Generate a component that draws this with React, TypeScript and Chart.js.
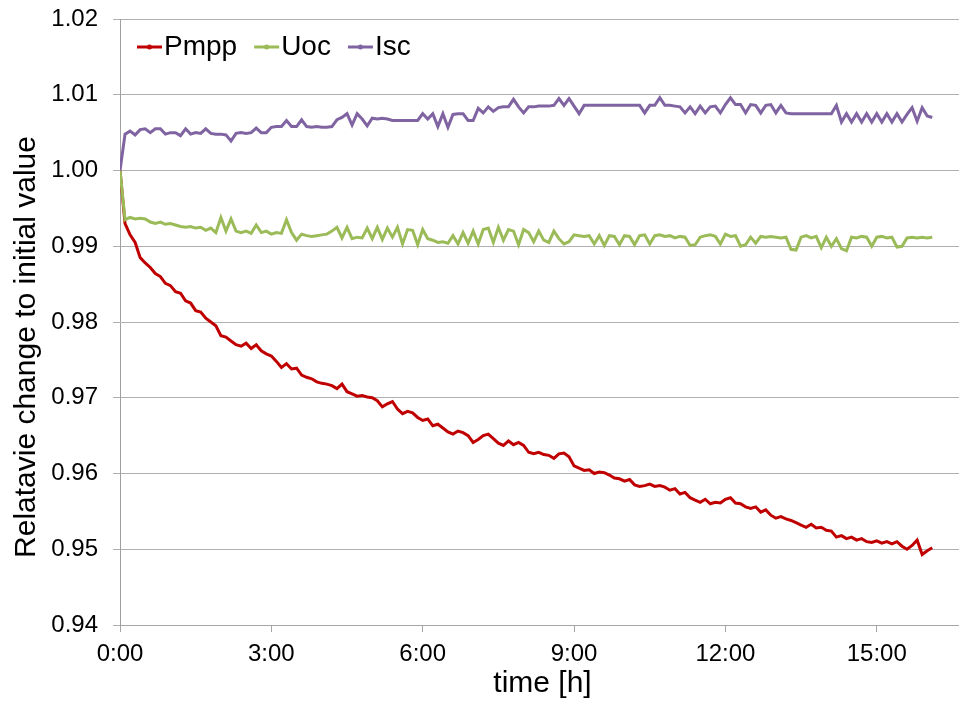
import React, { useEffect, useRef } from "react";
import { Chart, registerables } from "chart.js";

Chart.register(...registerables);

const FONT = "'Liberation Sans', Arial, Helvetica, sans-serif";

// time in hours
const hours = [
  0, 0.1, 0.2, 0.3, 0.4, 0.5, 0.6, 0.7, 0.8, 0.9,
  1, 1.1, 1.2, 1.3, 1.4, 1.5, 1.6, 1.7, 1.8, 1.9,
  2, 2.1, 2.2, 2.3, 2.4, 2.5, 2.6, 2.7, 2.8, 2.9,
  3, 3.1, 3.2, 3.3, 3.4, 3.5, 3.6, 3.7, 3.8, 3.9,
  4, 4.1, 4.2, 4.3, 4.4, 4.5, 4.6, 4.7, 4.8, 4.9,
  5, 5.1, 5.2, 5.3, 5.4, 5.5, 5.6, 5.7, 5.8, 5.9,
  6, 6.1, 6.2, 6.3, 6.4, 6.5, 6.6, 6.7, 6.8, 6.9,
  7, 7.1, 7.2, 7.3, 7.4, 7.5, 7.6, 7.7, 7.8, 7.9,
  8, 8.1, 8.2, 8.3, 8.4, 8.5, 8.6, 8.7, 8.8, 8.9,
  9, 9.1, 9.2, 9.3, 9.4, 9.5, 9.6, 9.7, 9.8, 9.9,
  10, 10.1, 10.2, 10.3, 10.4, 10.5, 10.6, 10.7, 10.8, 10.9,
  11, 11.1, 11.2, 11.3, 11.4, 11.5, 11.6, 11.7, 11.8, 11.9,
  12, 12.1, 12.2, 12.3, 12.4, 12.5, 12.6, 12.7, 12.8, 12.9,
  13, 13.1, 13.2, 13.3, 13.4, 13.5, 13.6, 13.7, 13.8, 13.9,
  14, 14.1, 14.2, 14.3, 14.4, 14.5, 14.6, 14.7, 14.8, 14.9,
  15, 15.1, 15.2, 15.3, 15.4, 15.5, 15.6, 15.7, 15.8, 15.9,
  16, 16.1,
];

const pmpp = [
  1.0, 0.993, 0.9915, 0.9905, 0.9885, 0.9878, 0.9872, 0.9864, 0.986, 0.9851,
  0.9848, 0.984, 0.9838, 0.9828, 0.9825, 0.9815, 0.9813, 0.9805, 0.98, 0.9795,
  0.9782, 0.978, 0.9775, 0.977, 0.9768, 0.9772, 0.9765, 0.977, 0.9762, 0.9758,
  0.9755, 0.9748, 0.974, 0.9745, 0.9738, 0.9739, 0.973, 0.9727, 0.9725, 0.9721,
  0.9719, 0.9718, 0.9716, 0.9712, 0.9718, 0.9708, 0.9705, 0.9702, 0.9703, 0.9701,
  0.97, 0.9696, 0.9688, 0.9692, 0.9695, 0.9685, 0.9679, 0.9682, 0.968, 0.9674,
  0.967, 0.9672, 0.9663, 0.9665, 0.966, 0.9655, 0.9652, 0.9656, 0.9654, 0.965,
  0.9641, 0.9645, 0.965, 0.9652, 0.9646, 0.964, 0.9637, 0.9643, 0.9638, 0.9641,
  0.9637, 0.9628, 0.9626, 0.9628, 0.9625, 0.9624, 0.962, 0.9626, 0.9627, 0.9622,
  0.961, 0.9607, 0.9604, 0.9605, 0.96, 0.9602, 0.9601, 0.9598, 0.9594, 0.9593,
  0.959, 0.9592, 0.9585, 0.9583, 0.9584, 0.9586, 0.9583, 0.9584, 0.9582, 0.9578,
  0.958, 0.9573, 0.9575, 0.9568, 0.9565, 0.9562, 0.9566, 0.956, 0.9562, 0.9561,
  0.9566, 0.9568, 0.9561, 0.956, 0.9556, 0.9554, 0.9556, 0.9549, 0.9552, 0.9545,
  0.9541, 0.9543, 0.954, 0.9538, 0.9535, 0.9532, 0.9529, 0.9533, 0.9528, 0.9529,
  0.9525, 0.9524, 0.9516, 0.9518, 0.9514, 0.9516, 0.9512, 0.9514, 0.951, 0.9509,
  0.9511, 0.9508, 0.951, 0.9507, 0.951, 0.9504, 0.95, 0.9505, 0.9512, 0.9493,
  0.9498, 0.9502,
];

const uoc = [
  1.0, 0.9935, 0.9938, 0.9936, 0.9937, 0.9936, 0.9932, 0.993, 0.9932, 0.9929,
  0.993, 0.9928, 0.9926, 0.9925, 0.9926, 0.9924, 0.9925, 0.9921, 0.9924, 0.9918,
  0.9938, 0.992, 0.9936, 0.992, 0.9918, 0.992, 0.9917, 0.9928, 0.9918, 0.992,
  0.9916, 0.9918, 0.9917, 0.9935, 0.9918, 0.9908, 0.9916, 0.9914, 0.9913, 0.9914,
  0.9915, 0.9916, 0.992, 0.9925, 0.9911, 0.9925, 0.991, 0.9912, 0.9911, 0.9924,
  0.991, 0.9925, 0.9909, 0.9924, 0.9912, 0.9925, 0.9903, 0.9922, 0.9921, 0.9902,
  0.9922, 0.991, 0.9908, 0.9905, 0.9906, 0.9904, 0.9914, 0.9903, 0.9918, 0.9904,
  0.992, 0.9903, 0.9922, 0.9924, 0.9905, 0.9925, 0.9908, 0.9922, 0.992, 0.9902,
  0.9922, 0.9918, 0.9906, 0.992, 0.9908, 0.9905, 0.992, 0.991, 0.9903, 0.9906,
  0.9915, 0.9914, 0.9913, 0.9914, 0.9903, 0.9914, 0.9901, 0.9914, 0.9913, 0.9902,
  0.9914, 0.9913, 0.9902, 0.9914, 0.9915, 0.9903, 0.9914, 0.9915, 0.9913, 0.9914,
  0.9911, 0.9913, 0.9912, 0.9901, 0.9902, 0.9912, 0.9914, 0.9915, 0.9913, 0.9903,
  0.9916, 0.9913, 0.9914, 0.99, 0.9902, 0.9912, 0.9904, 0.9913, 0.9912, 0.9913,
  0.9912, 0.9911, 0.9912, 0.9896, 0.9895, 0.9912, 0.9914, 0.9911, 0.9913, 0.9898,
  0.9912, 0.99, 0.991, 0.9897, 0.9894, 0.9912, 0.9911, 0.9913, 0.9912, 0.99,
  0.9912, 0.9913, 0.9911, 0.9912, 0.9899, 0.99, 0.9911, 0.9912, 0.9911, 0.9912,
  0.9911, 0.9912,
];

const isc = [
  1.0, 1.0048, 1.0052, 1.0047, 1.0054, 1.0055, 1.005, 1.0055, 1.0055, 1.0048,
  1.005, 1.005, 1.0046, 1.0055, 1.0048, 1.005, 1.0049, 1.0055, 1.0049, 1.0048,
  1.0048, 1.0047, 1.0039, 1.0049, 1.005, 1.0049, 1.005, 1.0056, 1.005, 1.005,
  1.0057, 1.0058, 1.0058, 1.0066, 1.0058, 1.0058, 1.0067, 1.0058, 1.0057, 1.0058,
  1.0057, 1.0057, 1.0058, 1.0067, 1.007, 1.0075, 1.006, 1.0075, 1.0068, 1.0059,
  1.0069, 1.0068, 1.0069, 1.0068, 1.0066, 1.0066, 1.0066, 1.0066, 1.0066, 1.0066,
  1.0075, 1.0068, 1.0075, 1.0058, 1.0075, 1.0057, 1.0074, 1.0075, 1.0075, 1.0066,
  1.0066, 1.0082, 1.0076, 1.0084, 1.0078, 1.0083, 1.0084, 1.0084, 1.0094, 1.0084,
  1.0076, 1.0084, 1.0084, 1.0085, 1.0085, 1.0085, 1.0086, 1.0095, 1.0086, 1.0095,
  1.0085, 1.0075, 1.0086, 1.0086, 1.0086, 1.0086, 1.0086, 1.0086, 1.0086, 1.0086,
  1.0086, 1.0086, 1.0086, 1.0086, 1.0076, 1.0086, 1.0086, 1.0096, 1.0086, 1.0086,
  1.0085, 1.0084, 1.0076, 1.0084, 1.0075, 1.0085, 1.0076, 1.0084, 1.0085, 1.0076,
  1.0087, 1.0096, 1.0087, 1.0087, 1.0076, 1.0087, 1.0086, 1.0076, 1.0086, 1.0087,
  1.0076, 1.0086, 1.0076, 1.0075, 1.0075, 1.0075, 1.0075, 1.0075, 1.0075, 1.0075,
  1.0075, 1.0075, 1.0086, 1.0064, 1.0075, 1.0064, 1.0075, 1.0064, 1.0075, 1.0064,
  1.0075, 1.0064, 1.0075, 1.0064, 1.0075, 1.0064, 1.0074, 1.0083, 1.0065, 1.0083,
  1.0072, 1.007,
];

const seriesNames = ["Pmpp", "Uoc", "Isc"];
const seriesValues = [pmpp, uoc, isc];
const seriesColors = ["#C00000", "#9BBB59", "#8064A2"];

const xTickValues = [0, 3, 6, 9, 12, 15];
const xTickLabels = ["0:00", "3:00", "6:00", "9:00", "12:00", "15:00"];
const yTickValues = [0.94, 0.95, 0.96, 0.97, 0.98, 0.99, 1.0, 1.01, 1.02];

const xTitle = "time [h]";
const yTitle = "Relatavie change to initial value";

const decorPlugin = {
  id: "decor",
  afterDraw(chart: any) {
    const ctx = chart.ctx as CanvasRenderingContext2D;
    const area = chart.chartArea;
    ctx.save();
    ctx.fillStyle = "#000000";
    // axis titles
    ctx.font = `30px ${FONT}`;
    ctx.textAlign = "center";
    ctx.textBaseline = "middle";
    ctx.fillText(xTitle, (area.left + area.right) / 2 + 3, area.bottom + 59);
    ctx.save();
    ctx.translate(27, (area.top + area.bottom) / 2 + 25);
    ctx.rotate(-Math.PI / 2);
    ctx.fillText(yTitle, 0, 0);
    ctx.restore();

    // legend inside plot area
    ctx.font = `28px ${FONT}`;
    ctx.textAlign = "left";
    let x = area.left + 17;
    const y = area.top + 28;
    chart.data.datasets.forEach((ds: any) => {
      ctx.strokeStyle = ds.borderColor;
      ctx.lineWidth = 3;
      ctx.beginPath();
      ctx.moveTo(x, y);
      ctx.lineTo(x + 25, y);
      ctx.stroke();
      ctx.fillStyle = ds.borderColor;
      ctx.beginPath();
      ctx.arc(x + 12.5, y, 2.5, 0, Math.PI * 2);
      ctx.fill();
      ctx.fillStyle = "#000000";
      ctx.fillText(ds.label, x + 27, y);
      x += 27 + ctx.measureText(ds.label).width + 17;
    });
    ctx.restore();
  },
};

export default function App() {
  const canvasRef = useRef<HTMLCanvasElement | null>(null);

  useEffect(() => {
    if (!canvasRef.current) return;
    const chart = new Chart(canvasRef.current, {
      type: "line",
      data: {
        datasets: seriesNames.map((name, i) => ({
          label: name,
          data: hours.map((h, j) => ({ x: h, y: seriesValues[i][j] })),
          borderColor: seriesColors[i],
          backgroundColor: seriesColors[i],
          borderWidth: 3,
          pointRadius: 0,
          tension: 0,
          order: seriesNames.length - 1 - i,
        })),
      },
      options: {
        animation: false,
        responsive: false,
        layout: { padding: { top: 19, right: 0, left: 0, bottom: 0 } },
        plugins: {
          legend: { display: false },
          tooltip: { enabled: false },
        },
        scales: {
          x: {
            type: "linear",
            min: 0,
            max: 16.63,
            afterBuildTicks: (axis: any) => {
              axis.ticks = xTickValues.map((v) => ({ value: v }));
            },
            afterFit: (axis: any) => {
              axis.height = 79;
              axis.paddingLeft = 0;
              axis.paddingRight = 0;
            },
            grid: {
              display: true,
              drawOnChartArea: false,
              drawTicks: true,
              tickLength: 7,
              color: "#a6a6a6",
            },
            border: { display: true, color: "#a6a6a6", width: 1 },
            ticks: {
              autoSkip: false,
              maxRotation: 0,
              padding: 8,
              color: "#000000",
              font: { family: FONT, size: 24 },
              callback: (value: any) => {
                const idx = xTickValues.indexOf(Number(value));
                return idx >= 0 ? xTickLabels[idx] : "";
              },
            },
          },
          y: {
            type: "linear",
            min: 0.94,
            max: 1.02,
            afterBuildTicks: (axis: any) => {
              axis.ticks = yTickValues.map((v) => ({ value: v }));
            },
            afterFit: (axis: any) => {
              axis.width = 120;
              axis.paddingTop = 0;
              axis.paddingBottom = 0;
            },
            grid: {
              display: true,
              drawTicks: true,
              tickLength: 7,
              color: "#b0b0b0",
              lineWidth: 1,
            },
            border: { display: true, color: "#a0a0a0", width: 1 },
            ticks: {
              padding: 15,
              color: "#000000",
              font: { family: FONT, size: 24 },
              callback: (value: any) => Number(value).toFixed(2),
            },
          },
        },
      },
      plugins: [decorPlugin],
    });
    return () => chart.destroy();
  }, []);

  return (
    <div style={{ position: "absolute", left: 0, top: 0, width: 959, height: 704, background: "#ffffff" }}>
      <canvas ref={canvasRef} width={959} height={704} style={{ display: "block" }} />
    </div>
  );
}
